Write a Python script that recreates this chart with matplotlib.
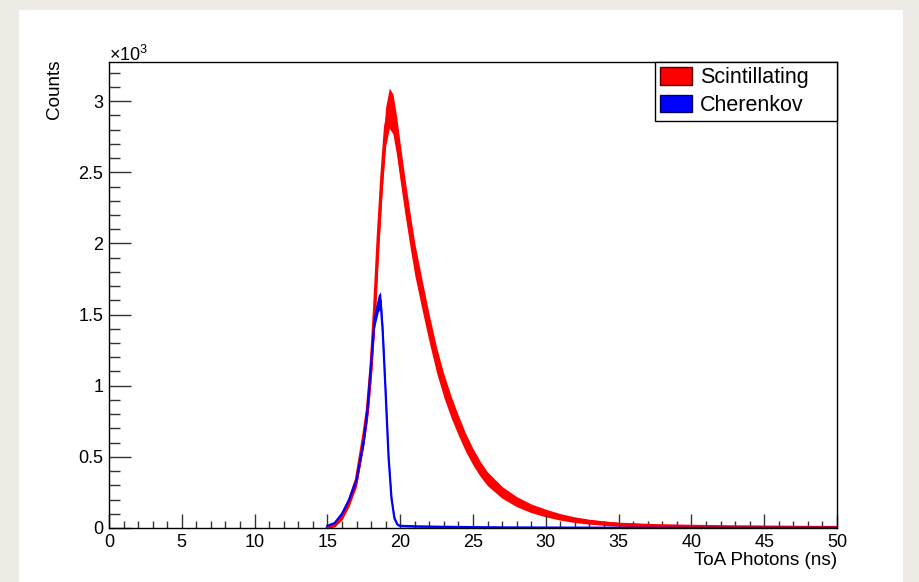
import numpy as np
import matplotlib
matplotlib.use('Agg')
import matplotlib.pyplot as plt
from matplotlib.patches import Patch, Rectangle
from matplotlib.ticker import MultipleLocator, FuncFormatter

plt.rcParams['font.family'] = ['Liberation Sans', 'DejaVu Sans']
plt.rcParams['mathtext.fontset'] = 'custom'
plt.rcParams['mathtext.rm'] = 'Liberation Sans'

# ToA (ns) and counts
scint_t = [15.0, 15.5, 16.0, 16.5, 17.0, 17.5, 17.75, 18.0, 18.25, 18.5, 18.75,
           19.0, 19.25, 19.5, 19.75, 20.0, 20.33, 20.67, 21.0, 21.5, 22.0, 22.5,
           23.0, 23.5, 24.0, 24.5, 25.0, 25.5, 26.0, 27.0, 28.0, 29.0, 30.0,
           31.0, 32.0, 33.0, 34.0, 35.0, 37.5, 40.0, 42.5, 45.0, 47.5, 50.0]
scint_counts = [0, 20, 80, 190, 340, 650, 830, 1130, 1550, 2050, 2480,
                2820, 2950, 2910, 2760, 2570, 2330, 2100, 1890, 1640, 1400, 1180,
                1000, 850, 720, 600, 500, 415, 345, 250, 185, 138, 105,
                78, 58, 44, 34, 26, 16, 11, 8, 6, 4, 3]

cher_t = [15.0, 15.5, 16.0, 16.5, 17.0, 17.5, 17.75, 18.0, 18.25, 18.5, 18.65,
          18.8, 19.0, 19.2, 19.4, 19.6, 19.8, 20.0, 21.0, 22.5, 25.0, 27.5,
          30.0, 35.0, 40.0, 45.0, 50.0]
cher_counts = [15, 35, 100, 200, 340, 620, 830, 1150, 1470, 1580, 1600,
               1380, 950, 500, 210, 70, 25, 15, 12, 9, 6, 4,
               3, 2, 1, 1, 1]

labels = ['Scintillating', 'Cherenkov']
colors = ['#ff0000', '#0000ff']

fig = plt.figure(figsize=(9.19, 5.82), dpi=100, facecolor='#eeebe4')
fig.patches.append(Rectangle((19/919, 0), (903-19)/919, (582-10)/582,
                             transform=fig.transFigure, facecolor='white',
                             edgecolor='none', zorder=-10))
ax = fig.add_axes([109/919, (582-528)/582, 728/919, 466/582])


def draw_hist(ax, t, c, color, k, lw):
    t = np.array(t, dtype=float)
    c = np.array(c, dtype=float)
    err = k * np.sqrt(c)  # error band, like ROOT's "E" option
    ax.fill_between(t, np.clip(c - err, 0, None), c + err, color=color, lw=0)
    ax.plot(t, c, color=color, lw=lw, solid_joinstyle='round')


draw_hist(ax, scint_t, scint_counts, colors[0], 2.6, 2.4)
draw_hist(ax, cher_t, cher_counts, colors[1], 1.5, 1.6)

ax.set_xlim(0, 50)
ax.set_ylim(0, 3275)

ax.xaxis.set_major_locator(MultipleLocator(5))
ax.xaxis.set_minor_locator(MultipleLocator(1))
ax.yaxis.set_major_locator(MultipleLocator(500))
ax.yaxis.set_minor_locator(MultipleLocator(100))
ax.yaxis.set_major_formatter(FuncFormatter(lambda v, p: '%g' % (v / 1000.)))

ax.tick_params(axis='both', which='both', direction='in', top=False, right=False,
               labelsize=13, color='#333333', width=1)
ax.tick_params(axis='x', which='major', length=10, pad=4.5)
ax.tick_params(axis='x', which='minor', length=5)
ax.tick_params(axis='y', which='major', length=16, pad=4)
ax.tick_params(axis='y', which='minor', length=8)
for s in ax.spines.values():
    s.set_linewidth(1)

ax.set_xlabel('ToA Photons (ns)', fontsize=13.6, loc='right')
ax.xaxis.set_label_coords(1.0, -0.051)
ax.set_ylabel('Counts', fontsize=13.6, loc='top')
ax.yaxis.set_label_coords(-0.063, 1.005)

ax.text(0.0, 0.994, r'$\times10^{3}$', transform=ax.transAxes, fontsize=13,
        ha='left', va='bottom')

handles = [Patch(facecolor=colors[i], edgecolor='#550000' if i == 0 else '#000055',
                 label=labels[i]) for i in range(2)]
leg = ax.legend(handles=handles, loc='upper left', bbox_to_anchor=(0.75, 1.0, 0.25, 0.0),
                mode='expand', borderaxespad=0, fancybox=False, edgecolor='black',
                framealpha=1, fontsize=15.5, handlelength=1.5, handleheight=0.9,
                handletextpad=0.35, borderpad=0.22, labelspacing=0.3)
leg.get_frame().set_linewidth(1)

plt.savefig('out.png', dpi=100, facecolor=fig.get_facecolor())
